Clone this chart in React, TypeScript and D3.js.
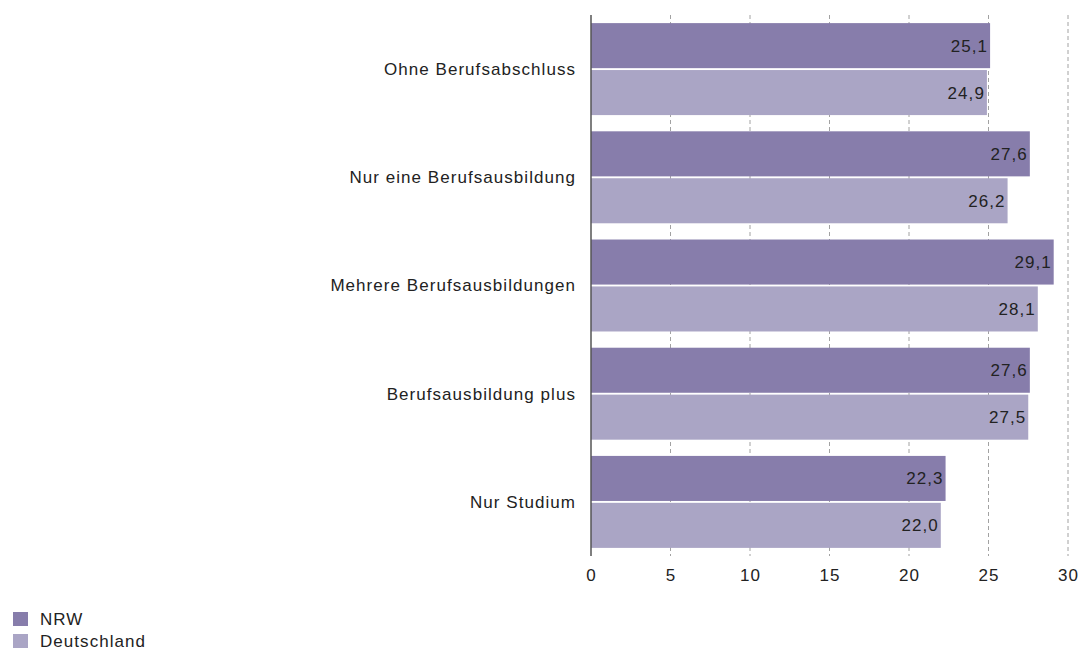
import React, { useEffect, useRef } from "react";
import * as d3 from "d3";

const categories = [
  "Ohne Berufsabschluss",
  "Nur eine Berufsausbildung",
  "Mehrere Berufsausbildungen",
  "Berufsausbildung plus",
  "Nur Studium",
];
const seriesNames = ["NRW", "Deutschland"];
const nrwValues = [25.1, 27.6, 29.1, 27.6, 22.3];
const deValues = [24.9, 26.2, 28.1, 27.5, 22.0];
const tickValues = [0, 5, 10, 15, 20, 25, 30];

const colors: Record<string, string> = { NRW: "#877dab", Deutschland: "#aaa5c5" };
const font = "'Liberation Sans', Arial, sans-serif";
const fontSize = 17;
const spacing = "1.05px";

const App = () => {
  const ref = useRef<SVGSVGElement>(null);

  useEffect(() => {
    const svg = d3.select(ref.current);
    svg.selectAll("*").remove();

    const left = 591, right = 1068, top = 15, bottom = 556;

    const x = d3.scaleLinear().domain([0, 30]).range([left, right]);
    const y = d3.scaleBand().domain(categories).range([top, bottom])
      .paddingInner(0.15).paddingOuter(0.075);
    const ySub = d3.scaleBand().domain(seriesNames).range([0, y.bandwidth()]).paddingInner(0.04);

    // dashed grid
    svg.append("g")
      .selectAll("line")
      .data(tickValues.filter((t) => t > 0))
      .enter()
      .append("line")
      .attr("x1", (d) => x(d)).attr("x2", (d) => x(d))
      .attr("y1", top).attr("y2", bottom)
      .attr("stroke", "#8a8a8a")
      .attr("stroke-width", 0.8)
      .attr("stroke-dasharray", "4,3");

    const rows = categories.map((c, i) => ({ cat: c, vals: [nrwValues[i], deValues[i]] }));

    const groups = svg.append("g")
      .selectAll("g")
      .data(rows)
      .enter()
      .append("g")
      .attr("transform", (d) => "translate(0," + y(d.cat) + ")");

    groups.selectAll("rect")
      .data((d) => d.vals.map((v, j) => ({ s: seriesNames[j], v })))
      .enter()
      .append("rect")
      .attr("x", x(0))
      .attr("y", (d) => ySub(d.s)!)
      .attr("width", (d) => x(d.v) - x(0))
      .attr("height", ySub.bandwidth())
      .attr("fill", (d) => colors[d.s]);

    groups.selectAll("text.val")
      .data((d) => d.vals.map((v, j) => ({ s: seriesNames[j], v })))
      .enter()
      .append("text")
      .attr("class", "val")
      .attr("x", (d) => x(d.v) - 2)
      .attr("y", (d) => ySub(d.s)! + ySub.bandwidth() / 2)
      .attr("dy", "0.35em")
      .attr("text-anchor", "end")
      .attr("font-family", font)
      .attr("font-size", fontSize)
      .attr("letter-spacing", spacing)
      .attr("fill", "#222")
      .text((d) => d.v.toFixed(1).replace(".", ","));

    // category labels
    groups.append("text")
      .attr("x", left - 15)
      .attr("y", y.bandwidth() / 2)
      .attr("dy", "0.35em")
      .attr("text-anchor", "end")
      .attr("font-family", font)
      .attr("font-size", fontSize)
      .attr("letter-spacing", spacing)
      .attr("fill", "#222")
      .text((d) => d.cat);

    // y axis line
    svg.append("line")
      .attr("x1", left).attr("x2", left)
      .attr("y1", top).attr("y2", bottom)
      .attr("stroke", "#555")
      .attr("stroke-width", 1.5);

    // x tick labels
    const xAxis = svg.append("g")
      .attr("transform", "translate(0," + bottom + ")")
      .call(d3.axisBottom(x).tickValues(tickValues).tickSize(0).tickPadding(13).tickFormat((d) => String(d)));
    xAxis.select(".domain").remove();
    xAxis.selectAll("text")
      .attr("font-family", font)
      .attr("font-size", fontSize)
      .attr("letter-spacing", spacing)
      .attr("fill", "#222");

    // legend
    const legend = svg.append("g")
      .selectAll("g")
      .data(seriesNames)
      .enter()
      .append("g")
      .attr("transform", (d, i) => "translate(13," + (612 + i * 22) + ")");
    legend.append("rect")
      .attr("width", 15).attr("height", 14)
      .attr("fill", (d) => colors[d]);
    legend.append("text")
      .attr("x", 27).attr("y", 7)
      .attr("dy", "0.35em")
      .attr("font-family", font)
      .attr("font-size", fontSize)
      .attr("letter-spacing", spacing)
      .attr("fill", "#222")
      .text((d) => d);
  }, []);

  return (
    <svg
      ref={ref}
      width={1080}
      height={651}
      style={{ position: "absolute", left: 0, top: 0, background: "#fff" }}
    />
  );
};

export default App;
